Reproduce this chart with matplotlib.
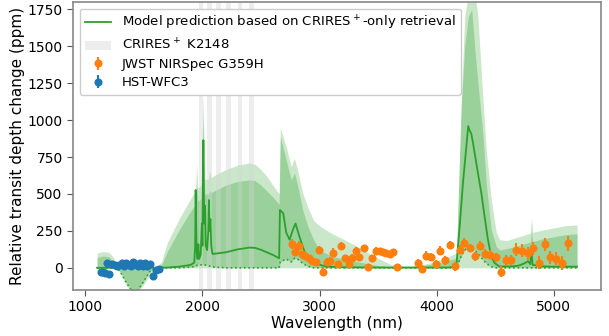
import matplotlib
matplotlib.use('Agg')
import matplotlib.pyplot as plt
import numpy as np

# model posterior bands (ppm) on a shared wavelength grid (nm)
band_wl = [1100, 1150, 1200, 1240, 1270, 1300, 1350, 1400, 1450, 1500, 1550, 1600,
           1650, 1700, 1800, 1900, 1940, 1950, 1960, 1990, 2005, 2020, 2050, 2060,
           2075, 2100, 2200, 2300, 2400, 2450, 2500, 2550, 2600, 2655, 2665, 2715,
           2758, 2786, 2812, 2857, 2900, 2950, 3000, 3100, 3200, 3300, 3400, 3500,
           3600, 3700, 3800, 3900, 4000, 4100, 4170, 4190, 4211, 4240, 4270, 4300,
           4330, 4353, 4396, 4424, 4467, 4510, 4540, 4600, 4700, 4800, 4810, 4820,
           4900, 5000, 5100, 5200]
hi2 = [100, 110, 105, 70, 10, 0, 0, 0, 0, 0, 0, 0,
       40, 170, 330, 470, 520, 700, 540, 560, 1160, 600, 600, 660,
       610, 625, 665, 695, 710, 700, 665, 620, 560, 500, 946, 820,
       685, 741, 662, 505, 410, 320, 285, 235, 195, 155, 110, 65,
       25, 10, 12, 25, 45, 75, 100, 600, 1135, 1700, 1850, 1850,
       1850, 1700, 1135, 800, 460, 240, 190, 185, 210, 235, 340, 240,
       255, 270, 285, 290]
hi1 = [70, 80, 75, 40, 0, 0, 0, 0, 0, 0, 0, 0,
       20, 110, 255, 385, 430, 560, 450, 470, 1000, 500, 500, 520,
       510, 520, 560, 585, 595, 590, 560, 520, 480, 430, 887, 730,
       595, 642, 560, 390, 280, 190, 120, 80, 60, 45, 30, 15,
       8, 4, 8, 18, 30, 50, 65, 600, 1100, 1500, 1700, 1750,
       1450, 1250, 900, 570, 257, 144, 120, 130, 150, 175, 250, 178,
       195, 210, 225, 230]
lo1 = [0, 0, 0, 0, 0, -30, -100, -160, -150, -90, -25, 0,
       0, 0, 0, 5, 10, 15, 20, 20, 25, 20, 15, 12,
       10, 5, 0, 0, 0, 0, 0, 0, 0, 0, 40, 60,
       40, 65, 60, 30, 10, 0, 0, 0, 0, 0, 0, 0,
       0, 0, 0, 0, 0, 0, 0, 40, 80, 120, 140, 135,
       115, 95, 55, 30, 8, 0, 0, 0, 0, 0, 0, 0,
       0, 0, 0, 0]
lo2 = [0, 0, 0, 0, 0, -40, -120, -170, -165, -110, -50, 0,
       0, 0, 0, 0, 0, 0, 0, 0, 0, 0, 0, 0,
       0, 0, 0, 0, 0, 0, 0, 0, 0, 0, 0, 0,
       0, 0, 0, 0, 0, 0, 0, 0, 0, 0, 0, 0,
       0, 0, 0, 0, 0, 0, 0, 0, 0, 0, 0, 0,
       0, 0, 0, 0, 0, 0, 0, 0, 0, 0, 0, 0,
       0, 0, 0, 0]

# median model spectrum
med_wl = [1100, 1600, 1700, 1800, 1900, 1930, 1938, 1942, 1946, 1950, 1958, 1965,
          1972, 1985, 1995, 2000, 2004, 2008, 2012, 2016, 2022, 2028, 2040, 2050,
          2055, 2060, 2068, 2075, 2085, 2100, 2200, 2300, 2400, 2450, 2500, 2550,
          2600, 2655, 2662, 2690, 2715, 2744, 2772, 2795, 2829, 2872, 2915, 2972,
          3057, 3200, 3500, 4100, 4168, 4197, 4225, 4254, 4270, 4282, 4296, 4310,
          4325, 4353, 4382, 4410, 4439, 4467, 4496, 4538, 4650, 4700, 4750, 4780,
          4800, 4810, 4820, 4900, 5000, 5200]
med_ppm = [0, 0, 2, 8, 20, 35, 150, 527, 300, 120, 60, 160,
           60, 90, 300, 150, 650, 865, 500, 300, 420, 150, 120, 250,
           459, 250, 330, 150, 95, 95, 105, 125, 137, 135, 122, 105,
           88, 65, 392, 370, 240, 190, 257, 300, 210, 110, 54, 27,
           9, 4, 2, 2, 9, 279, 572, 820, 960, 930, 910, 850,
           777, 642, 507, 347, 189, 76, 32, 9, 10, 15, 30, 45,
           25, 120, 20, 10, 8, 8]

# CRIRES+ K2148 spectral orders (nm)
crires_lo = [1968, 2040, 2120, 2205, 2300, 2395]
crires_hi = [2008, 2078, 2160, 2248, 2342, 2440]

# JWST NIRSpec G395H
jwst_wl = [2764, 2792, 2821, 2849, 2880, 2909, 2937, 2966, 2994, 3028,
           3060, 3089, 3117, 3155, 3182, 3214, 3248, 3278, 3313, 3340,
           3379, 3413, 3450, 3484, 3513, 3541, 3570, 3598, 3627, 3661,
           3840, 3877, 3912, 3949, 3991, 4031, 4074, 4117, 4154, 4197,
           4237, 4282, 4325, 4368, 4410, 4453, 4504, 4547, 4590, 4632,
           4681, 4726, 4781, 4823, 4872, 4923, 4972, 5023, 5074, 5125]
jwst_ppm = [162, 110, 151, 92, 83, 65, 47, 38, 122, -25,
            40, 45, 103, 24, 150, 65, 24, 68, 113, 70,
            131, 5, 65, 117, 113, 106, 99, 95, 104, 7,
            34, -9, 83, 72, 27, 117, 50, 155, 9, 122,
            171, 133, 79, 151, 95, 90, 72, -25, 50, 54,
            122, 117, 99, 131, 36, 160, 72, 61, 32, 167]
jwst_err = [35, 30, 30, 25, 25, 25, 22, 22, 28, 28,
            25, 25, 28, 22, 25, 25, 25, 25, 25, 22,
            25, 22, 25, 22, 20, 20, 20, 20, 20, 22,
            25, 25, 28, 25, 25, 28, 28, 28, 28, 30,
            30, 28, 30, 30, 30, 30, 30, 35, 35, 35,
            45, 45, 45, 45, 45, 45, 45, 45, 45, 50]

# HST WFC3
hst_wl = [1130, 1150, 1170, 1185, 1205, 1230, 1250, 1270, 1290, 1310, 1330, 1350,
          1370, 1390, 1410, 1430, 1450, 1470, 1490, 1510, 1530, 1555, 1580, 1605, 1625]
hst_ppm = [-30, -25, -35, 35, -45, 25, 20, 10, 20, 30, 15, 35,
           20, 10, 40, 25, 10, 35, 15, 30, 15, 25, -58, -12, -10]
hst_err = [18, 18, 18, 18, 18, 16, 16, 16, 16, 16, 16, 16,
           16, 16, 16, 16, 16, 16, 16, 16, 16, 18, 18, 18, 18]

green = '#2ca02c'

fig = plt.figure(figsize=(6.09, 3.36), dpi=100)
ax = fig.add_axes([0.12, 0.137, 0.867, 0.857])

ax.fill_between(band_wl, lo2, hi2, color=green, alpha=0.25, lw=0)
ax.fill_between(band_wl, lo1, hi1, color=green, alpha=0.3, lw=0)
ax.plot(band_wl, lo1, ':', color=green, lw=1.2)
ax.plot(med_wl, med_ppm, '-', color=green, lw=1.3,
        label='Model prediction based on CRIRES$^+$-only retrieval')

for i, (a, b) in enumerate(zip(crires_lo, crires_hi)):
    ax.axvspan(a, b, color='lightgray', alpha=0.4, lw=0,
               label='CRIRES$^+$ K2148' if i == 0 else None)

ax.errorbar(jwst_wl, jwst_ppm, yerr=jwst_err, fmt='o', color='#ff7f0e',
            ms=4.8, elinewidth=1.5, capsize=0, label='JWST NIRSpec G359H')
ax.errorbar(hst_wl, hst_ppm, yerr=hst_err, fmt='o', color='#1f77b4',
            ms=4.8, elinewidth=1.5, capsize=0, label='HST-WFC3')

ax.set_xlim(895, 5405)
ax.set_ylim(-150, 1800)
ax.set_xticks([1000, 2000, 3000, 4000, 5000])
ax.set_yticks([0, 250, 500, 750, 1000, 1250, 1500, 1750])
ax.tick_params(labelsize=10, length=4, color='#555555')
for s in ax.spines.values():
    s.set_color('#888888')
    s.set_linewidth(1.2)

ax.set_xlabel('Wavelength (nm)', fontsize=11, labelpad=1)
ax.set_ylabel('Relative transit depth change (ppm)', fontsize=11, labelpad=2)
ax.legend(loc='upper left', fontsize=9.5, framealpha=1, edgecolor='#cccccc',
          borderaxespad=0.5, labelspacing=0.4)

fig.savefig('out.png', dpi=100)
